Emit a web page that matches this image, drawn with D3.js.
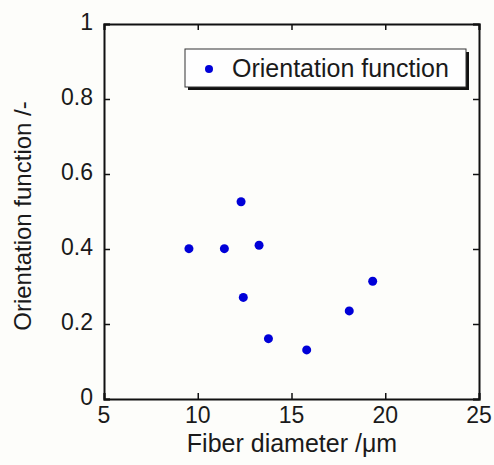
<!DOCTYPE html>
<html>
<head>
<meta charset="utf-8">
<script src="https://cdn.jsdelivr.net/npm/d3@7"></script>
<style>
  body { margin: 0; background: #fdfdfa; }
  text { font-family: "Liberation Sans", Arial, sans-serif; fill: #1a1a1a; }
</style>
</head>
<body>
<div id="chart"></div>
<script>
// data
var diameter = [9.53, 11.42, 12.31, 12.43, 13.27, 13.77, 15.81, 18.08, 19.33];
var orientation = [0.401, 0.401, 0.526, 0.271, 0.410, 0.161, 0.131, 0.235, 0.314];
var xTicks = [5, 10, 15, 20, 25];
var yTicks = [0, 0.2, 0.4, 0.6, 0.8, 1];
var seriesName = 'Orientation function';

var svgWidth = 494;
var svgHeight = 465;
var plot = { left: 104, top: 24, right: 479, bottom: 399 };
var tickLen = 6;

var svg = d3.select('#chart')
  .append('svg')
  .attr('width', svgWidth)
  .attr('height', svgHeight);

svg.append('rect')
  .attr('width', svgWidth)
  .attr('height', svgHeight)
  .attr('fill', '#fdfdfa');

var xScale = d3.scaleLinear().domain([5, 25]).range([plot.left, plot.right]);
var yScale = d3.scaleLinear().domain([0, 1]).range([plot.bottom, plot.top]);

// axes with inward ticks, labels drawn separately
var bottomAxis = d3.axisBottom(xScale).tickValues(xTicks).tickSize(-tickLen).tickFormat('');
var topAxis = d3.axisTop(xScale).tickValues(xTicks).tickSize(-tickLen).tickFormat('');
var leftAxis = d3.axisLeft(yScale).tickValues(yTicks).tickSize(-tickLen).tickFormat('');
var rightAxis = d3.axisRight(yScale).tickValues(yTicks).tickSize(-tickLen).tickFormat('');

function styleAxis(g) {
  g.selectAll('path').attr('stroke', '#111').attr('stroke-width', 2);
  g.selectAll('line').attr('stroke', '#111').attr('stroke-width', 1.5);
}

svg.append('g').attr('transform', 'translate(0,' + plot.bottom + ')').call(bottomAxis).call(styleAxis);
svg.append('g').attr('transform', 'translate(0,' + plot.top + ')').call(topAxis).call(styleAxis);
svg.append('g').attr('transform', 'translate(' + plot.left + ',0)').call(leftAxis).call(styleAxis);
svg.append('g').attr('transform', 'translate(' + plot.right + ',0)').call(rightAxis).call(styleAxis);

// tick labels
svg.selectAll('.xLabel')
  .data(xTicks)
  .enter()
  .append('text')
  .attr('x', function(d) { return xScale(d); })
  .attr('y', 423)
  .attr('text-anchor', 'middle')
  .attr('font-size', 23)
  .text(function(d) { return d; });

svg.selectAll('.yLabel')
  .data(yTicks)
  .enter()
  .append('text')
  .attr('x', plot.left - 11)
  .attr('y', function(d) { return yScale(d); })
  .attr('dy', '0.25em')
  .attr('text-anchor', 'end')
  .attr('font-size', 23)
  .text(function(d) { return d; });

// axis titles
svg.append('text')
  .attr('x', 292)
  .attr('y', 452)
  .attr('text-anchor', 'middle')
  .attr('font-size', 25)
  .text('Fiber diameter /\u03bcm');

svg.append('text')
  .attr('transform', 'translate(31,216)rotate(-90)')
  .attr('text-anchor', 'middle')
  .attr('font-size', 24)
  .text('Orientation function /-');

// points
svg.selectAll('.dot')
  .data(diameter)
  .enter()
  .append('circle')
  .attr('cx', function(d) { return xScale(d); })
  .attr('cy', function(d, i) { return yScale(orientation[i]); })
  .attr('r', 4.5)
  .attr('fill', '#0000d8');

// legend box with shadow
var legend = svg.append('g').attr('transform', 'translate(185,49)');
legend.append('rect')
  .attr('x', 3).attr('y', 3)
  .attr('width', 281).attr('height', 38)
  .attr('fill', '#111');
legend.append('rect')
  .attr('width', 281).attr('height', 38)
  .attr('fill', '#fefefe')
  .attr('stroke', '#333')
  .attr('stroke-width', 1);
legend.append('circle')
  .attr('cx', 24).attr('cy', 20)
  .attr('r', 4)
  .attr('fill', '#0000d8');
legend.append('text')
  .attr('x', 47).attr('y', 28)
  .attr('font-size', 25)
  .text(seriesName);
</script>
</body>
</html>
